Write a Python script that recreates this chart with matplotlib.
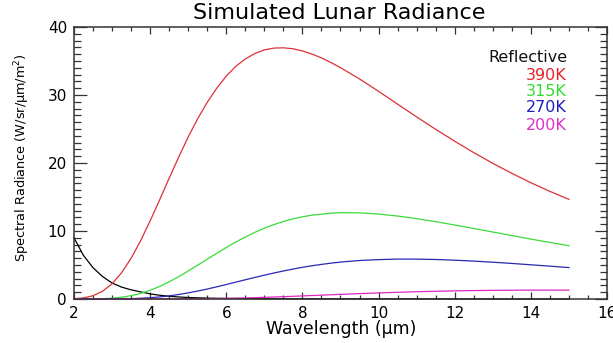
import matplotlib
matplotlib.use("Agg")
import matplotlib.pyplot as plt
from matplotlib.ticker import MultipleLocator

# wavelength grid (um)
wavelength = [2.0, 2.25, 2.5, 2.75, 3.0, 3.25, 3.5, 3.75, 4.0, 4.25, 4.5,
              4.75, 5.0, 5.25, 5.5, 5.75, 6.0, 6.25, 6.5, 6.75, 7.0,
              7.25, 7.5, 7.75, 8.0, 8.25, 8.5, 8.75, 9.0, 9.5, 10.0,
              10.5, 11.0, 11.5, 12.0, 12.5, 13.0, 13.5, 14.0, 14.5, 15.0]

reflective = [9.0, 6.4, 4.6, 3.3, 2.35, 1.75, 1.35, 1.05, 0.75, 0.55, 0.4,
              0.3, 0.22, 0.17, 0.13, 0.1, 0.08, 0.07, 0.06, 0.05, 0.045,
              0.04, 0.035, 0.032, 0.03, 0.028, 0.025, 0.022, 0.02, 0.018, 0.015,
              0.013, 0.012, 0.011, 0.01, 0.009, 0.008, 0.008, 0.007, 0.007, 0.006]

rad_390 = [0.04, 0.16, 0.48, 1.14, 2.24, 3.86, 5.99, 8.57, 11.49, 14.59, 17.77,
           20.87, 23.83, 26.53, 28.93, 31.0, 32.78, 34.22, 35.30, 36.1, 36.64,
           36.90, 36.94, 36.80, 36.48, 36.02, 35.46, 34.77, 34.02, 32.36, 30.54,
           28.65, 26.78, 24.95, 23.20, 21.53, 19.95, 18.48, 17.10, 15.83, 14.65]

rad_315 = [0.0, 0.003, 0.014, 0.047, 0.12, 0.26, 0.49, 0.82, 1.28, 1.85, 2.52,
           3.28, 4.11, 4.98, 5.86, 6.72, 7.57, 8.38, 9.12, 9.80, 10.41,
           10.94, 11.40, 11.78, 12.09, 12.33, 12.47, 12.62, 12.69, 12.67, 12.49,
           12.20, 11.82, 11.37, 10.88, 10.37, 9.85, 9.33, 8.81, 8.32, 7.84]

rad_270 = [0.0, 0.0, 0.001, 0.003, 0.009, 0.025, 0.055, 0.108, 0.19, 0.31, 0.46,
           0.66, 0.90, 1.17, 1.47, 1.79, 2.13, 2.48, 2.83, 3.17, 3.50,
           3.82, 4.12, 4.40, 4.66, 4.89, 5.09, 5.27, 5.43, 5.66, 5.79,
           5.87, 5.87, 5.81, 5.71, 5.57, 5.41, 5.23, 5.03, 4.83, 4.62]

rad_200 = [0.0, 0.0, 0.0, 0.0, 0.0, 0.0, 0.0003, 0.0008, 0.002, 0.004, 0.007,
           0.013, 0.022, 0.033, 0.049, 0.070, 0.095, 0.125, 0.160, 0.200, 0.244,
           0.292, 0.343, 0.396, 0.452, 0.509, 0.567, 0.624, 0.681, 0.792, 0.896,
           0.988, 1.070, 1.137, 1.195, 1.240, 1.273, 1.291, 1.306, 1.310, 1.307]

legend_labels = ["Reflective", "390K", "315K", "270K", "200K"]
legend_colors = ["#111111", "#e8202a", "#30e030", "#2020c0", "#e030c8"]
line_colors = ["#000000", "#dc3038", "#38dc38", "#2828b4", "#dc28c0"]

plt.rcParams['font.family'] = ['DejaVu Sans']

fig = plt.figure(figsize=(6.13, 3.43), dpi=100)
W, H = 613.0, 343.0
ax = fig.add_axes([74 / W, 1 - 299 / H, (607 - 74) / W, (299 - 27) / H])

series = [reflective, rad_390, rad_315, rad_270, rad_200]
for vals, col in zip(series, line_colors):
    ax.plot(wavelength, vals, color=col, lw=0.9, clip_on=False)

ax.set_xlim(2, 16)
ax.set_ylim(0, 40)
ax.xaxis.set_major_locator(MultipleLocator(2))
ax.xaxis.set_minor_locator(MultipleLocator(0.5))
ax.yaxis.set_major_locator(MultipleLocator(10))
ax.yaxis.set_minor_locator(MultipleLocator(1))

ax.tick_params(axis='both', which='both', direction='in', top=True, right=True,
               color='#333333', width=0.9)
ax.tick_params(axis='x', which='major', length=5, pad=5, labelsize=11)
ax.tick_params(axis='x', which='minor', length=3)
ax.tick_params(axis='y', which='major', length=9, pad=5, labelsize=11)
ax.tick_params(axis='y', which='minor', length=5)
for sp in ax.spines.values():
    sp.set_linewidth(1.1)
    sp.set_color('#333333')

fig.text(339 / W, 1 - 13 / H, "Simulated Lunar Radiance", ha='center', va='center',
         fontsize=16)
fig.text(341 / W, 1 - 329 / H, "Wavelength (\u00b5m)", ha='center', va='center',
         fontsize=12.5)
fig.text(22 / W, 1 - 158 / H, "Spectral Radiance (W/sr/\u00b5m/m$^2$)", ha='center',
         va='center', rotation=90, fontsize=9.3)

legend_y = [57, 75, 91, 108, 126]
for lab, col, yy in zip(legend_labels, legend_colors, legend_y):
    fig.text(567 / W, 1 - yy / H, lab, ha='right', va='center', color=col,
             fontsize=11.5)

plt.savefig("out.png", dpi=100)
